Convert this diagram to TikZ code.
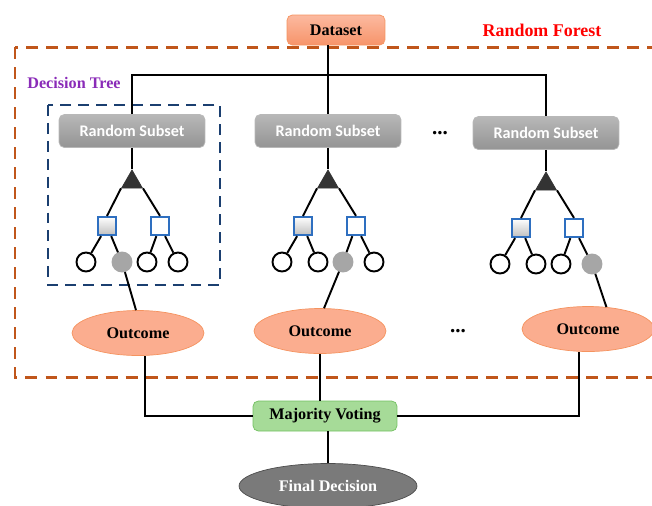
\documentclass[tikz,border=0pt]{standalone}
\usepackage{fontspec}
\setmainfont{Liberation Serif}
\newfontfamily\subsetfont{Carlito}
\usepackage{xcolor}
\usepackage{tikz}
\usetikzlibrary{shapes.geometric, arrows.meta, positioning, backgrounds, calc}

\definecolor{forestorange}{HTML}{C0561B}
\definecolor{treeblue}{HTML}{1B3F70}
\definecolor{squareblue}{HTML}{2E6FC0}
\definecolor{salmon}{HTML}{FBAD8F}
\definecolor{salmondeep}{HTML}{F7946A}
\definecolor{salmonline}{HTML}{F5935F}
\definecolor{votegreen}{HTML}{A6DB98}
\definecolor{votegreenline}{HTML}{72C060}
\definecolor{treepurple}{HTML}{8A2BB8}

\begin{document}
\begin{tikzpicture}[x=0.02cm, y=-0.02cm, font=\fontsize{9.2}{11}\selectfont\bfseries]
        \tikzstyle{dataset} = [rectangle, draw=salmonline, top color=salmon!85, bottom color=salmondeep, rounded corners=3pt, minimum width=1.96cm, minimum height=0.6cm, inner sep=1pt]
        \tikzstyle{subset} = [rectangle, draw=black!28, top color=black!28, bottom color=black!42, text=white, rounded corners=3pt, minimum width=2.92cm, minimum height=0.66cm, font=\fontsize{9.2}{11}\selectfont\subsetfont\bfseries]
        \tikzstyle{outcome} = [ellipse, draw=salmonline, fill=salmon, minimum width=2.64cm, minimum height=0.9cm, inner sep=0pt]
        \tikzstyle{vote} = [rectangle, draw=votegreenline, fill=votegreen, rounded corners=3pt, minimum width=2.88cm, minimum height=0.6cm]
        \tikzstyle{final} = [ellipse, draw=black!70, fill=black!52, text=white, minimum width=3.56cm, minimum height=0.9cm, inner sep=0pt]
        \tikzstyle{tri} = [regular polygon, regular polygon sides=3, fill=black!80, draw=black!80, minimum size=0.48cm, inner sep=0pt]
        \tikzstyle{split} = [rectangle, draw=squareblue, line width=1pt, minimum size=0.37cm, inner sep=0pt]
        \tikzstyle{leaf} = [circle, line width=1.1pt, minimum size=0.38cm, inner sep=0pt]
        \tikzstyle{line} = [draw, line width=1.1pt]

        \useasboundingbox (0,0) rectangle (652,505);

        % forest frame
        \draw[forestorange, line width=1.7pt, dash pattern=on 6.8pt off 4.6pt] (15,47) rectangle (668,377);
        \node[text=red, font=\fontsize{10.2}{12}\selectfont\bfseries] (rf) at (542,30) {Random Forest};
        \node[fill=white, inner sep=0pt, text=treepurple] (dt) at (74,83) {Decision Tree};
        \draw[treeblue, line width=1.4pt, dash pattern=on 6.2pt off 4pt] (48,105) rectangle (220,285);

        \node [dataset] (ds) at (336,30) {Dataset};

        % trees
        \foreach \t/\x/\y/\g in {1/132/131/2, 2/328/131/3, 3/546/133/4} {
            \node [subset] (rs\t) at (\x,\y) {Random Subset};
            \node [tri] (tr\t) at (\x,\y+51) {};
            \node [split, top color=white, bottom color=black!25] (sa\t) at (\x-25,\y+95) {};
            \node [split, fill=white] (sb\t) at (\x+28,\y+95) {};
            \foreach \k/\dx in {1/-46, 2/-10, 3/15, 4/46} {
                \ifnum\k=\g \def\leaffill{black!35}\def\leafdraw{black!35}\else\def\leaffill{white}\def\leafdraw{black}\fi
                \node [leaf, fill=\leaffill, draw=\leafdraw] (lf\t\k) at (\x+\dx,\y+131) {};
            }
            \path [line] (rs\t) -- (tr\t.corner 1);
            \path [line] (tr\t.corner 2) -- (sa\t.north);
            \path [line] (tr\t.corner 3) -- (sb\t.north);
            \path [line] (sa\t) -- (lf\t1);
            \path [line] (sa\t) -- (lf\t2);
            \path [line] (sb\t) -- (lf\t3);
            \path [line] (sb\t) -- (lf\t4);
        }

        \node at (440,133) {\fontsize{12}{12}\selectfont ...};

        % outcomes and voting
        \node [outcome] (out1) at (138,333) {Outcome};
        \node [outcome] (out2) at (320,331) {Outcome};
        \node [outcome] (out3) at (588,329) {Outcome};
        \node at (458,331) {\fontsize{12}{12}\selectfont ...};
        \node [vote] (mv) at (325,416) {Majority Voting};
        \node [final] (fd) at (328,486) {Final Decision};

        \coordinate (bus) at (0,75);
        \path [line] (rs2.north |- ds.south) -- (rs2.north);
        \path [line] (rs1.north) -- (rs1.north |- bus) -- (rs3.north |- bus) -- (rs3.north);

        \path [line] (lf12) -- (out1.95);
        \path [line] (lf23) -- (out2.80);
        \path [line] (lf34) -- (out3.50);

        \path [line] ($(out1.south)+(7,0)$) -- ($(out1.south |- mv)+(7,0)$) -- (mv.west);
        \path [line] ($(out3.south)+(-9,0)$) -- ($(out3.south |- mv)+(-9,0)$) -- (mv.east);
        \path [line] (out2.south) -- (out2.south |- mv.north);
        \path [line] (mv.south -| fd.north) -- (fd.north);
\end{tikzpicture}
\end{document}
